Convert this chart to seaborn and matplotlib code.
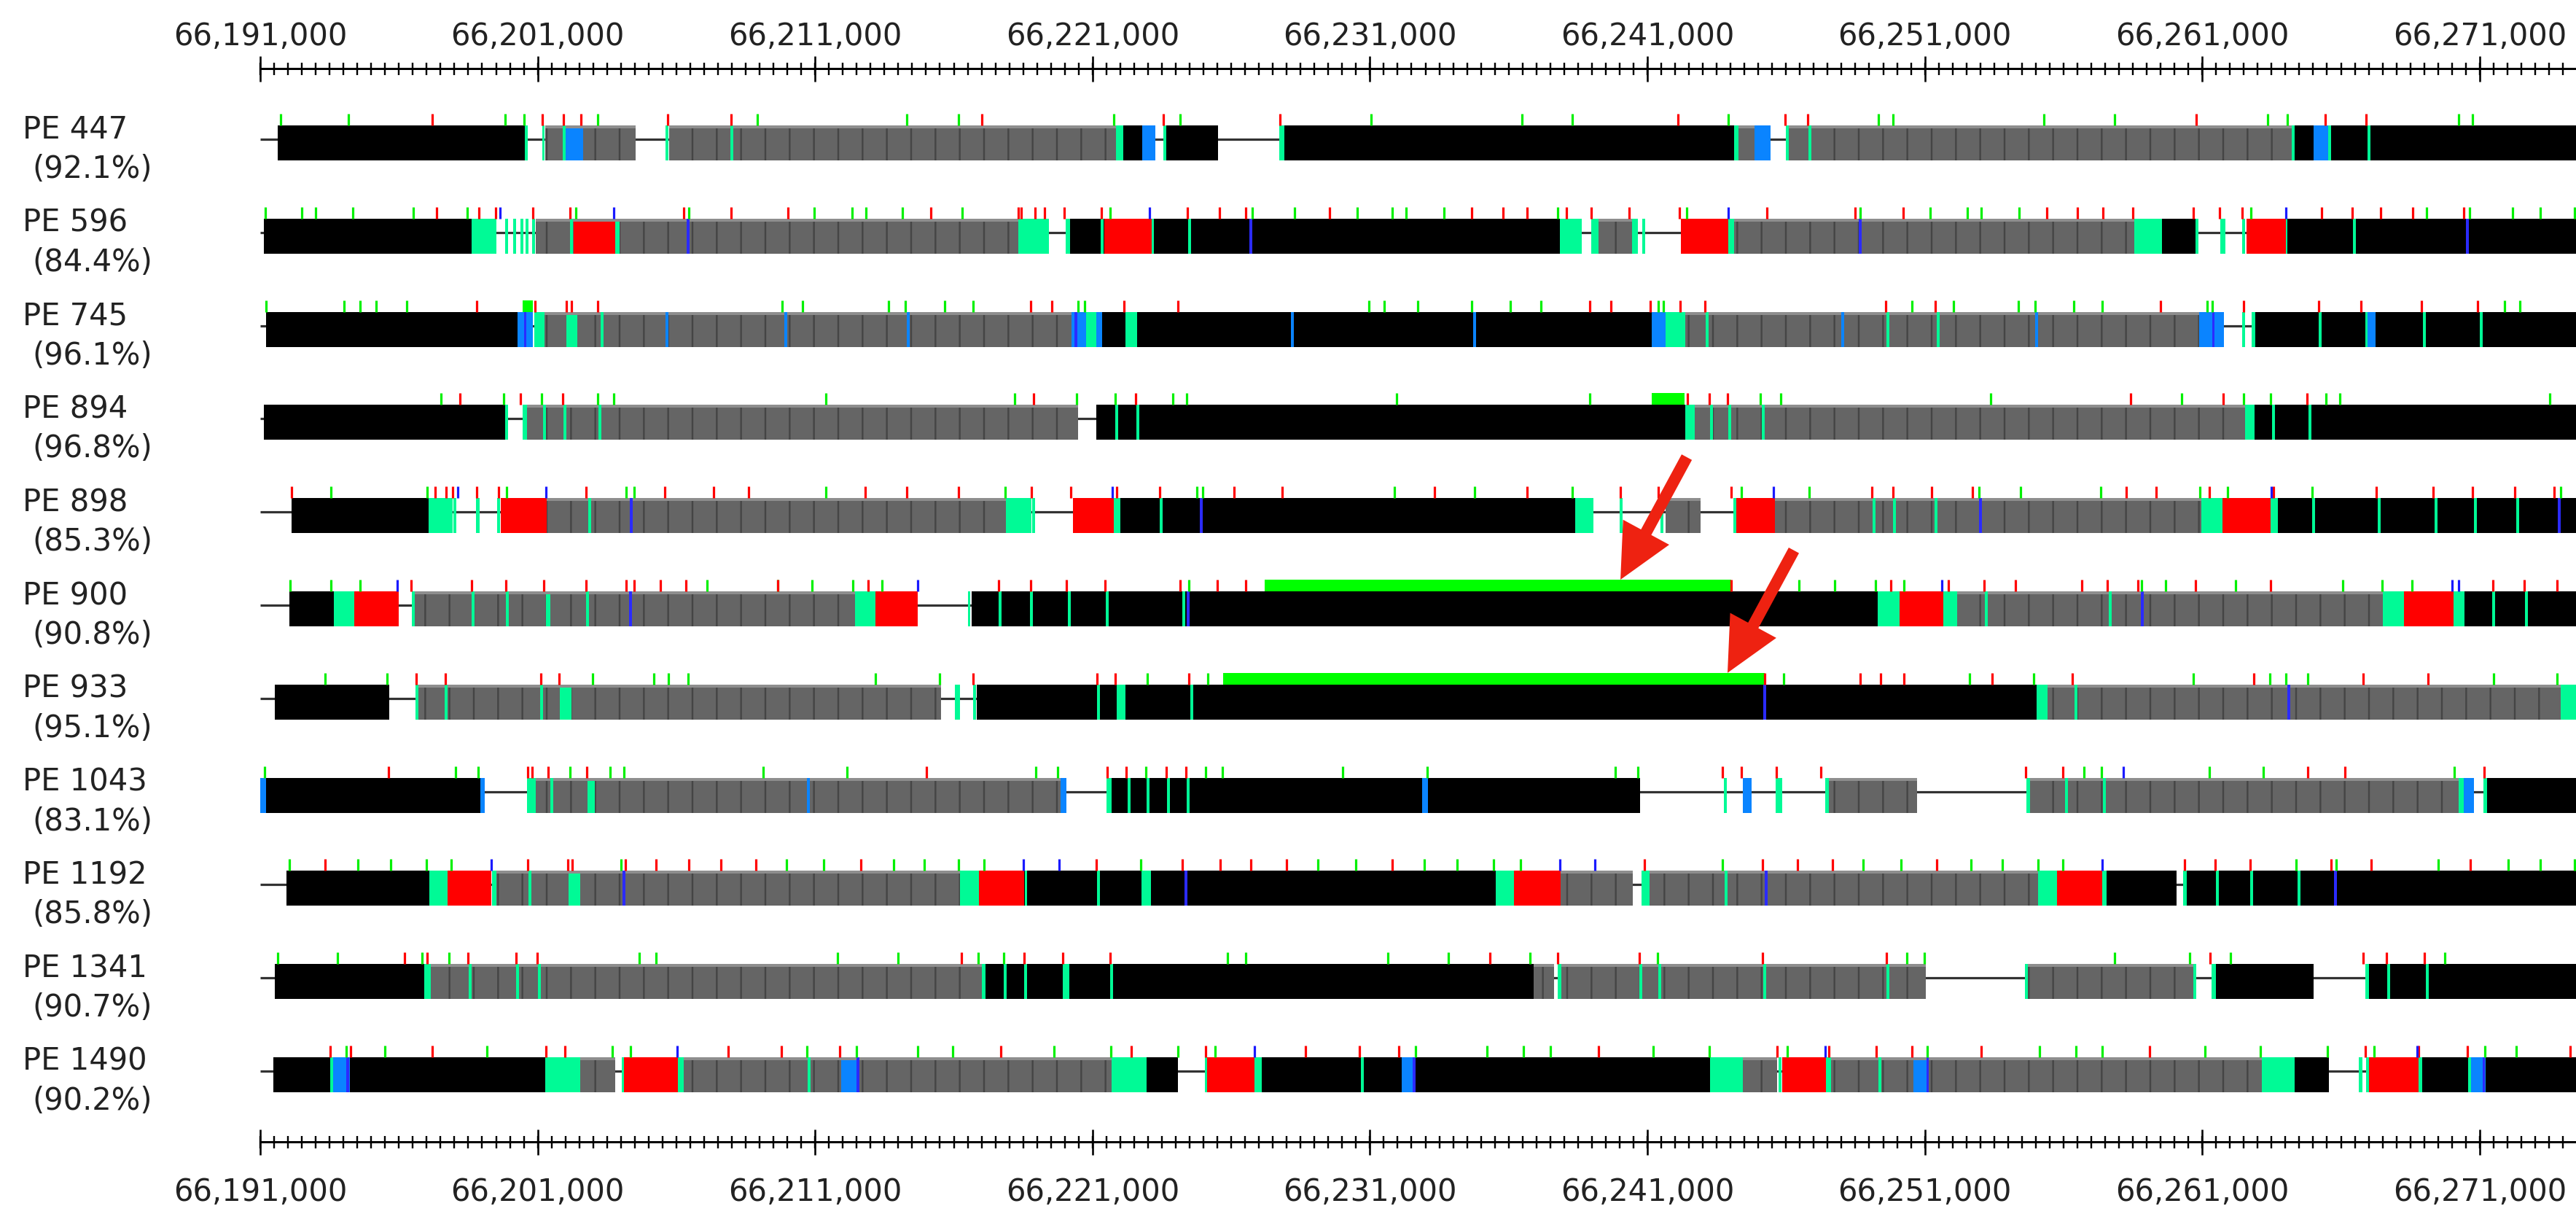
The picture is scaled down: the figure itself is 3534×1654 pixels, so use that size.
import numpy as np
import pandas as pd
import matplotlib
matplotlib.use("Agg")
import matplotlib.pyplot as plt
import matplotlib.patches as mpatches
from matplotlib.transforms import IdentityTransform
import seaborn as sns

# ---------------------------------------------------------------------------
# Data: positions are kb downstream of REGION_START
# Block kinds: K unique (black), G repeat (gray), R red, T teal, B light blue
# ---------------------------------------------------------------------------
REGION_START = 66_191_000
RULER_MAJOR_KB = 10
RULER_MINOR_KB = 0.5

SAMPLES = ["PE 447", "PE 596", "PE 745", "PE 894", "PE 898", "PE 900",
           "PE 933", "PE 1043", "PE 1192", "PE 1341", "PE 1490"]
IDENTITY = [92.1, 84.4, 96.1, 96.8, 85.3, 90.8, 95.1, 83.1, 85.8, 90.7, 90.2]

PE447_BLOCKS = [("K", 0.63, 9.62), ("G", 10.27, 13.53), ("B", 10.98, 11.64), ("G", 14.74, 30.85),
                ("T", 30.85, 31.11), ("K", 31.11, 31.79), ("B", 31.79, 32.26), ("K", 32.66, 34.52),
                ("T", 36.73, 36.92), ("K", 36.92, 53.13), ("T", 53.13, 53.28), ("G", 53.28, 53.86),
                ("B", 53.86, 54.44), ("G", 55.10, 73.25), ("K", 73.33, 74.01), ("B", 74.01, 74.59),
                ("K", 74.59, 83.6)]
PE447_TEAL = [9.60, 10.21, 10.96, 14.66, 17.00, 32.60, 55.04, 55.85, 73.27, 74.60, 76.01]
PE447_VIOLET = []
PE447_SKY = []
PE447_GREEN = [0.74, 3.18, 8.83, 9.51, 12.16, 17.92, 23.30, 25.17, 30.77, 33.16, 40.04, 45.48,
               47.29, 52.92, 58.33, 58.85, 64.29, 66.84, 72.36, 73.07, 79.24, 79.74]
PE447_RED = [6.20, 10.17, 10.93, 11.56, 14.69, 16.97, 26.01, 32.55, 36.76, 51.10, 54.97, 55.78,
             69.78, 74.43, 75.90]
PE447_BLUE = []
PE447_BAR = []

PE596_BLOCKS = [("K", 0.13, 7.62), ("T", 7.62, 8.51), ("G", 9.93, 27.32), ("R", 11.30, 12.80),
                ("T", 12.80, 12.95), ("T", 27.32, 28.43), ("T", 29.03, 29.19), ("K", 29.19, 46.85),
                ("R", 30.43, 32.13), ("T", 32.13, 32.21), ("T", 46.85, 47.63), ("T", 47.98, 48.24),
                ("G", 48.24, 49.45), ("T", 49.45, 49.66), ("R", 51.21, 52.92), ("T", 52.92, 53.13),
                ("G", 53.13, 67.55), ("T", 67.55, 68.55), ("K", 68.55, 69.78), ("T", 70.65, 70.83),
                ("R", 71.60, 73.01), ("T", 73.01, 73.07), ("K", 73.07, 83.6)]
PE596_TEAL = [8.88, 9.17, 9.43, 9.62, 9.86, 11.22, 30.35, 33.50, 49.87, 69.82, 71.49, 75.49]
PE596_VIOLET = [15.42, 35.70, 57.67, 79.56]
PE596_SKY = []
PE596_GREEN = [0.18, 1.50, 2.00, 3.34, 5.52, 7.46, 11.38, 15.45, 19.97, 21.33, 21.83, 23.15, 25.30,
               30.64, 35.76, 37.28, 39.54, 40.80, 41.30, 42.67, 46.77, 51.42, 57.67, 60.19, 61.53,
               62.03, 63.40, 71.75, 78.09, 79.64, 81.19, 82.18, 83.42]
PE596_RED = [6.36, 7.88, 8.49, 9.83, 11.17, 15.27, 16.97, 19.02, 24.17, 27.32, 27.43, 27.93, 28.27,
             28.98, 30.32, 33.42, 34.58, 35.52, 38.54, 43.67, 44.80, 45.66, 47.08, 47.98, 49.34,
             51.15, 54.31, 57.49, 59.22, 64.40, 65.50, 66.42, 67.50, 69.68, 70.62, 71.44, 74.30,
             75.41, 76.43, 77.59, 79.43]
PE596_BLUE = [8.64, 12.74, 32.05, 52.92, 73.01]
PE596_BAR = []

PE745_BLOCKS = [("K", 0.21, 9.27), ("B", 9.27, 9.83), ("T", 9.88, 10.25), ("G", 10.25, 29.24),
                ("T", 11.04, 11.43), ("B", 29.24, 29.77), ("T", 29.77, 30.14), ("B", 30.14, 30.35),
                ("K", 30.35, 50.16), ("T", 31.19, 31.61), ("B", 50.16, 50.66), ("T", 50.66, 51.37),
                ("G", 51.37, 69.89), ("B", 69.89, 70.78), ("T", 71.78, 71.91), ("K", 71.91, 83.6),
                ("B", 75.95, 76.25)]
PE745_TEAL = [12.32, 52.15, 58.67, 60.48, 71.49, 74.25, 75.92, 78.01, 80.06]
PE745_VIOLET = [9.55, 29.40, 70.40]
PE745_SKY = [14.66, 18.94, 23.36, 37.20, 43.77, 57.04, 64.03]
PE745_GREEN = [0.21, 3.02, 3.60, 4.18, 5.28, 18.81, 19.55, 22.65, 23.25, 24.67, 25.70, 29.48, 29.72,
               39.96, 40.51, 41.72, 43.67, 45.06, 46.16, 50.39, 50.58, 59.54, 61.04, 63.37, 63.98,
               65.37, 66.39, 70.18, 70.36, 80.90, 81.45]
PE745_RED = [7.80, 9.91, 11.04, 11.22, 12.16, 27.77, 28.53, 31.13, 33.08, 47.92, 48.69, 50.10,
             51.18, 52.07, 58.59, 60.38, 68.50, 71.49, 74.20, 75.72, 77.90, 79.93]
PE745_BLUE = []
PE745_BAR = [(9.46, 9.83)]

PE894_BLOCKS = [("K", 0.13, 8.85), ("T", 9.46, 9.62), ("G", 9.62, 29.48), ("K", 30.14, 51.37),
                ("T", 51.37, 51.71), ("G", 51.71, 71.54), ("T", 71.54, 71.89), ("K", 71.89, 83.6)]
PE894_TEAL = [8.88, 10.25, 10.98, 12.24, 30.87, 31.63, 52.31, 52.97, 54.18, 72.57, 73.88]
PE894_VIOLET = []
PE894_SKY = []
PE894_GREEN = [6.52, 8.78, 10.14, 12.16, 12.74, 20.39, 27.19, 29.43, 30.82, 32.90, 33.39, 40.96,
               47.92, 54.07, 54.81, 62.37, 69.26, 71.49, 72.46, 74.46, 74.96, 82.53]
PE894_RED = [7.20, 9.38, 10.90, 27.88, 31.56, 51.44, 52.23, 52.89, 67.42, 70.76, 73.78]
PE894_BLUE = []
PE894_BAR = [(50.16, 51.34)]

PE898_BLOCKS = [("K", 1.13, 6.07), ("T", 6.07, 6.94), ("T", 7.78, 7.91), ("R", 8.67, 10.33),
                ("G", 10.33, 26.88), ("T", 26.88, 27.80), ("R", 29.30, 30.77), ("T", 30.77, 31.00),
                ("K", 31.00, 47.40), ("T", 47.40, 48.06), ("G", 50.66, 51.92), ("R", 53.21, 54.60),
                ("G", 54.60, 69.97), ("T", 69.97, 70.73), ("R", 70.73, 72.46), ("T", 72.46, 72.73),
                ("K", 72.73, 83.6)]
PE898_TEAL = [7.02, 8.59, 11.88, 27.88, 32.47, 49.05, 50.52, 53.15, 58.17, 58.91, 60.40, 74.01,
              76.38, 78.43, 79.85, 81.37]
PE898_VIOLET = [13.37, 33.92, 62.01, 82.87]
PE898_SKY = []
PE898_GREEN = [2.55, 6.02, 8.88, 13.19, 13.48, 20.39, 26.85, 33.76, 33.97, 40.88, 43.77, 47.29,
               53.39, 55.83, 61.95, 63.45, 66.34, 69.92, 70.91, 73.96, 82.92]
PE898_RED = [1.13, 6.31, 6.70, 6.94, 7.80, 8.59, 11.74, 14.58, 16.34, 17.60, 21.81, 23.30, 25.17,
             27.80, 29.22, 30.87, 32.42, 35.10, 36.84, 42.33, 45.66, 49.03, 50.39, 53.02, 58.09,
             58.85, 60.25, 61.72, 67.26, 68.34, 70.26, 72.57, 76.27, 78.32, 79.74, 81.27, 82.69]
PE898_BLUE = [7.12, 10.30, 30.72, 54.54, 72.49]
PE898_BAR = []

PE900_BLOCKS = [("K", 1.05, 2.65), ("T", 2.65, 3.39), ("R", 3.39, 4.99), ("G", 5.57, 21.44),
                ("T", 10.30, 10.45), ("T", 21.44, 22.18), ("R", 22.18, 23.70), ("K", 25.64, 58.30),
                ("T", 58.30, 59.09), ("R", 59.09, 60.67), ("T", 60.67, 61.17), ("G", 61.17, 76.51),
                ("T", 76.51, 77.27), ("R", 77.27, 79.06), ("T", 79.06, 79.45), ("K", 79.45, 83.6)]
PE900_TEAL = [5.52, 7.67, 8.91, 11.80, 25.55, 26.67, 27.80, 29.16, 30.53, 33.30, 62.22, 66.68,
              80.50, 81.69]
PE900_VIOLET = [13.35, 33.45, 67.84]
PE900_SKY = []
PE900_GREEN = [1.08, 2.55, 3.60, 16.11, 18.65, 19.89, 21.36, 22.41, 33.47, 55.47, 56.75, 58.22,
               59.25, 67.81, 68.68, 71.20, 75.06, 76.48, 77.56]
PE900_RED = [5.44, 7.62, 8.85, 10.22, 11.74, 13.19, 13.48, 14.42, 15.34, 18.65, 21.91, 26.62,
             27.77, 29.06, 30.45, 33.16, 34.50, 35.52, 53.02, 58.77, 60.85, 62.14, 63.27, 65.66,
             66.58, 67.68, 69.76, 72.46, 80.48, 81.61, 82.79]
PE900_BLUE = [4.94, 23.70, 60.61, 79.01, 79.24]
PE900_BAR = [(36.21, 53.02)]

PE933_BLOCKS = [("K", 0.53, 4.65), ("G", 5.70, 24.54), ("T", 10.80, 11.22), ("T", 25.04, 25.22),
                ("K", 25.83, 64.03), ("T", 30.87, 31.19), ("T", 64.03, 64.42), ("G", 64.42, 82.92),
                ("T", 82.92, 83.6)]
PE933_TEAL = [5.65, 6.70, 10.14, 25.75, 30.22, 33.58, 65.45]
PE933_VIOLET = [54.23, 73.12]
PE933_SKY = []
PE933_GREEN = [2.34, 4.57, 11.98, 14.19, 14.71, 15.42, 22.18, 24.49, 31.98, 34.16, 54.91, 61.61,
               63.92, 69.68, 72.44, 73.01, 73.80, 80.50, 82.79]
PE933_RED = [5.62, 6.67, 10.12, 10.77, 25.70, 30.16, 30.82, 33.47, 54.23, 57.67, 58.41, 59.25,
             62.43, 65.32, 71.86, 75.80, 78.14]
PE933_BLUE = []
PE933_BAR = [(34.72, 54.23)]

PE1043_BLOCKS = [("B", 0.0, 0.21), ("K", 0.21, 7.93), ("B", 7.93, 8.09), ("T", 9.62, 9.93),
                 ("G", 9.93, 28.85), ("T", 11.80, 12.06), ("B", 28.85, 29.06), ("T", 30.50, 30.69),
                 ("K", 30.69, 49.74), ("B", 41.88, 42.09), ("B", 53.44, 53.76), ("T", 54.62, 54.86),
                 ("T", 56.41, 56.54), ("G", 56.54, 59.72), ("T", 63.66, 63.79), ("G", 63.79, 79.24),
                 ("T", 79.24, 79.43), ("B", 79.43, 79.79), ("T", 80.14, 80.27), ("K", 80.27, 83.6)]
PE1043_TEAL = [10.51, 31.32, 32.00, 32.74, 33.45, 52.81, 65.11, 66.47]
PE1043_VIOLET = []
PE1043_SKY = [19.76]
PE1043_GREEN = [0.16, 7.04, 7.86, 11.17, 12.61, 13.11, 18.13, 21.15, 27.96, 28.74, 31.92, 34.08,
                34.68, 39.02, 42.06, 48.84, 49.66, 65.74, 66.37, 70.26, 72.20, 79.08]
PE1043_RED = [4.62, 9.64, 9.80, 10.38, 11.77, 24.01, 30.53, 31.21, 32.66, 33.37, 52.71, 53.39,
              54.65, 56.25, 63.64, 64.98, 73.80, 75.14, 80.17]
PE1043_BLUE = [67.16]
PE1043_BAR = []

PE1192_BLOCKS = [("K", 0.95, 6.10), ("T", 6.10, 6.75), ("R", 6.75, 8.33), ("T", 8.36, 8.51),
                 ("G", 8.51, 25.22), ("T", 11.11, 11.53), ("T", 25.22, 25.91), ("R", 25.91, 27.54),
                 ("K", 27.54, 44.53), ("T", 31.77, 32.11), ("T", 44.53, 45.19), ("R", 45.19, 46.87),
                 ("G", 46.87, 49.47), ("T", 49.79, 50.08), ("G", 50.08, 64.08), ("T", 64.08, 64.77),
                 ("R", 64.77, 66.39), ("T", 66.39, 66.55), ("K", 66.55, 69.07), ("T", 69.31, 69.45),
                 ("K", 69.45, 83.6)]
PE1192_TEAL = [9.72, 27.60, 30.22, 52.84, 70.55, 71.78, 73.49]
PE1192_VIOLET = [13.11, 33.37, 54.28, 74.80]
PE1192_SKY = []
PE1192_GREEN = [1.05, 3.52, 4.70, 5.99, 6.88, 13.01, 18.97, 20.31, 22.83, 23.94, 25.17, 26.09,
                31.74, 38.12, 39.49, 41.96, 43.14, 44.46, 45.43, 52.71, 57.78, 59.14, 61.67, 62.79,
                64.08, 64.98, 73.38, 74.83, 78.51, 81.03, 82.18, 83.42]
PE1192_RED = [2.34, 9.64, 11.09, 11.25, 13.16, 14.27, 15.45, 16.61, 17.87, 21.65, 30.14, 33.24,
              34.60, 35.71, 36.99, 40.80, 49.89, 54.15, 55.41, 56.67, 60.43, 69.36, 70.47, 71.73,
              74.64, 76.09, 79.66]
PE1192_BLUE = [8.33, 27.51, 28.80, 46.85, 48.11, 66.39]
PE1192_BAR = []

PE1341_BLOCKS = [("K", 0.53, 5.91), ("T", 5.91, 6.15), ("G", 6.15, 26.01), ("T", 26.01, 26.14),
                 ("K", 26.14, 45.90), ("T", 28.93, 29.16), ("G", 45.90, 46.64), ("T", 46.77, 46.90),
                 ("G", 46.90, 60.04), ("T", 63.61, 63.72), ("G", 63.72, 69.68), ("T", 69.68, 69.79),
                 ("T", 70.34, 70.49), ("K", 70.49, 74.01), ("T", 75.88, 76.00), ("K", 76.00, 83.6)]
PE1341_TEAL = [7.57, 9.27, 10.06, 26.85, 27.59, 30.69, 49.76, 50.45, 54.23, 58.67, 76.72, 78.11]
PE1341_VIOLET = []
PE1341_SKY = []
PE1341_GREEN = [0.63, 2.79, 5.83, 6.80, 13.66, 14.27, 20.81, 22.99, 25.88, 26.80, 34.87, 35.52,
                40.65, 42.83, 45.77, 50.37, 59.35, 59.98, 66.84, 69.55, 71.02, 78.74]
PE1341_RED = [5.20, 6.02, 7.49, 9.22, 9.98, 25.28, 27.54, 28.93, 30.64, 44.32, 46.77, 49.71,
              54.15, 58.62, 70.28, 75.80, 76.64, 78.01]
PE1341_BLUE = []
PE1341_BAR = []

PE1490_BLOCKS = [("K", 0.47, 2.55), ("B", 2.55, 3.23), ("K", 3.23, 10.27), ("T", 10.27, 11.53),
                 ("G", 11.53, 12.80), ("T", 13.04, 13.14), ("R", 13.11, 15.05), ("T", 15.05, 15.27),
                 ("G", 15.27, 30.69), ("B", 20.94, 21.60), ("T", 30.69, 31.95), ("K", 31.95, 33.08),
                 ("T", 34.04, 34.13), ("R", 34.13, 35.84), ("T", 35.84, 36.10), ("K", 36.10, 52.26),
                 ("B", 41.14, 41.64), ("T", 52.26, 53.44), ("G", 53.44, 54.68), ("T", 54.74, 54.84),
                 ("R", 54.86, 56.44), ("T", 56.44, 56.62), ("G", 56.62, 72.15), ("B", 59.59, 60.14),
                 ("T", 72.15, 73.33), ("K", 73.33, 74.57), ("T", 75.64, 75.78), ("T", 75.90, 76.01),
                 ("R", 76.01, 77.80), ("T", 77.80, 77.93), ("K", 77.93, 79.61), ("B", 79.61, 80.21),
                 ("K", 80.21, 83.6)]
PE1490_TEAL = [2.57, 19.78, 39.73, 58.38, 79.63]
PE1490_VIOLET = [3.15, 21.55, 41.60, 60.10, 80.15]
PE1490_SKY = []
PE1490_GREEN = [3.10, 4.49, 8.17, 12.69, 13.35, 19.71, 21.49, 23.70, 24.96, 28.61, 30.66, 33.08,
                34.42, 41.64, 44.22, 45.53, 46.51, 50.21, 52.23, 55.04, 60.09, 64.13, 65.45, 66.39,
                70.10, 72.10, 74.51, 76.20, 80.19, 81.32]
PE1490_RED = [2.52, 3.26, 6.20, 10.30, 10.98, 16.87, 18.79, 20.89, 26.69, 31.40, 34.08, 37.68,
              39.62, 41.04, 48.24, 54.68, 56.54, 58.25, 59.54, 62.03, 68.10, 75.88, 77.80, 79.56,
              83.26]
PE1490_BLUE = [15.03, 35.84, 56.41, 77.75]
PE1490_BAR = []

# Annotation arrows: tip position (kb, row index) each points at
ARROW_TIPS = [(49.03, 5), (52.89, 6)]

ROW_BLOCKS = [PE447_BLOCKS, PE596_BLOCKS, PE745_BLOCKS, PE894_BLOCKS, PE898_BLOCKS, PE900_BLOCKS,
              PE933_BLOCKS, PE1043_BLOCKS, PE1192_BLOCKS, PE1341_BLOCKS, PE1490_BLOCKS]
ROW_TEAL = [PE447_TEAL, PE596_TEAL, PE745_TEAL, PE894_TEAL, PE898_TEAL, PE900_TEAL,
            PE933_TEAL, PE1043_TEAL, PE1192_TEAL, PE1341_TEAL, PE1490_TEAL]
ROW_VIOLET = [PE447_VIOLET, PE596_VIOLET, PE745_VIOLET, PE894_VIOLET, PE898_VIOLET, PE900_VIOLET,
              PE933_VIOLET, PE1043_VIOLET, PE1192_VIOLET, PE1341_VIOLET, PE1490_VIOLET]
ROW_SKY = [PE447_SKY, PE596_SKY, PE745_SKY, PE894_SKY, PE898_SKY, PE900_SKY,
           PE933_SKY, PE1043_SKY, PE1192_SKY, PE1341_SKY, PE1490_SKY]
ROW_GREEN = [PE447_GREEN, PE596_GREEN, PE745_GREEN, PE894_GREEN, PE898_GREEN, PE900_GREEN,
             PE933_GREEN, PE1043_GREEN, PE1192_GREEN, PE1341_GREEN, PE1490_GREEN]
ROW_RED = [PE447_RED, PE596_RED, PE745_RED, PE894_RED, PE898_RED, PE900_RED,
           PE933_RED, PE1043_RED, PE1192_RED, PE1341_RED, PE1490_RED]
ROW_BLUE = [PE447_BLUE, PE596_BLUE, PE745_BLUE, PE894_BLUE, PE898_BLUE, PE900_BLUE,
            PE933_BLUE, PE1043_BLUE, PE1192_BLUE, PE1341_BLUE, PE1490_BLUE]
ROW_BARS = [PE447_BAR, PE596_BAR, PE745_BAR, PE894_BAR, PE898_BAR, PE900_BAR,
            PE933_BAR, PE1043_BAR, PE1192_BAR, PE1341_BAR, PE1490_BAR]

# ---------------------------------------------------------------------------
# Styling
# ---------------------------------------------------------------------------
COLORS = {"K": "#000000", "G": "#656565", "R": "#ff0000", "T": "#00fa96", "B": "#0a84ff",
          "V": "#2b2bff"}
TICK_COLORS = {"green": "#00f000", "red": "#ff0000", "blue": "#1a1aff"}

W_PX, H_PX, DPI = 3534, 1654, 200
PX_PER_KB = 38.06
X0_PX = 357                       # pixel column of REGION_START
ROW_Y0, ROW_STEP = 196, 127.8     # first row centre and spacing (px)
HALF_H = 24                       # half bar height (px)
TICK_H = 16                       # variant tick height (px)


def pt(px):
    return px * 72.0 / DPI


def px_to_kb(px):
    return (px - X0_PX) / PX_PER_KB


sns.set_theme(style="white")
plt.rcParams["font.family"] = ["DejaVu Sans"]
plt.rcParams["hatch.linewidth"] = pt(2.4)

fig = plt.figure(figsize=(W_PX / DPI, H_PX / DPI), dpi=DPI)
fig.patch.set_facecolor("white")
ax = fig.add_axes([0, 0, 1, 1])
x_left, x_right = px_to_kb(0), px_to_kb(W_PX)

tick_rows = []
for i, name in enumerate(SAMPLES):
    c = ROW_Y0 + i * ROW_STEP
    top = c - HALF_H
    # backbone line
    ax.hlines(c - 5, 0, x_right, color="#333333", lw=pt(3.2), zorder=1)
    # aligned blocks
    for kind, s, e in ROW_BLOCKS[i]:
        if kind == "G":
            ax.add_patch(mpatches.Rectangle((s, top), e - s, 2 * HALF_H, facecolor=COLORS["G"],
                                            edgecolor="#454545", hatch="|", lw=0, zorder=2))
            ax.add_patch(mpatches.Rectangle((s, top), e - s, 4, facecolor="#8e8e8e", lw=0,
                                            zorder=2.1))
        else:
            ax.add_patch(mpatches.Rectangle((s, top), e - s, 2 * HALF_H, facecolor=COLORS[kind],
                                            lw=0, zorder=2))
    for kind, marks in (("T", ROW_TEAL[i]), ("B", ROW_SKY[i]), ("V", ROW_VIOLET[i])):
        for p in marks:
            ax.add_patch(mpatches.Rectangle((p - 0.05, top), 0.1, 2 * HALF_H,
                                            facecolor=COLORS[kind], lw=0, zorder=3))
    for s, e in ROW_BARS[i]:
        ax.add_patch(mpatches.Rectangle((s, top - TICK_H), e - s, TICK_H, facecolor="#00ff00",
                                        lw=0, zorder=3))
    for kind, vals in (("green", ROW_GREEN[i]), ("red", ROW_RED[i]), ("blue", ROW_BLUE[i])):
        for v in vals:
            tick_rows.append({"pos": v, "y": top - TICK_H / 2, "kind": kind})
    # labels
    ax.text(px_to_kb(31), c - 6, name, ha="left", va="baseline", fontsize=15, color="#222222")
    ax.text(px_to_kb(44), c + 48, f"({IDENTITY[i]:.1f}%)", ha="left", va="baseline",
            fontsize=15, color="#222222")

ticks = pd.DataFrame(tick_rows)
sns.scatterplot(data=ticks, x="pos", y="y", hue="kind", palette=TICK_COLORS, marker="|",
                s=(pt(TICK_H)) ** 2, linewidth=pt(3.2), legend=False, ax=ax, zorder=4)

# rulers (top and bottom)
majors = np.arange(0, x_right, RULER_MAJOR_KB)
minors = np.arange(0, x_right, RULER_MINOR_KB)
for y_line, y_lab in ((94, 62), (1566, 1647)):
    ax.hlines(y_line, 0, x_right, color="black", lw=pt(3), zorder=2)
    ax.vlines(minors, y_line - 8.5, y_line + 8.5, color="black", lw=pt(2.4), zorder=2)
    ax.vlines(majors, y_line - 17.5, y_line + 17.5, color="black", lw=pt(2.6), zorder=2)
    for m in majors:
        ax.text(m, y_lab, f"{REGION_START + int(round(m * 1000)):,}", ha="center",
                va="baseline", fontsize=15, color="#222222")

ax.set_xlim(x_left, x_right)
ax.set_ylim(H_PX, 0)
ax.axis("off")

# red call-out arrows
for kb, row in ARROW_TIPS:
    tip_y = ROW_Y0 + row * ROW_STEP - HALF_H - TICK_H
    tx, ty = ax.transData.transform((kb, tip_y))
    dx, dy = -91, -168
    ax.add_patch(mpatches.FancyArrow(tx - dx, ty - dy, dx, dy, width=16, head_width=72,
                                     head_length=74, length_includes_head=True,
                                     color="#ee2211", lw=0, transform=IdentityTransform(),
                                     zorder=10))

fig.savefig("out.png", dpi=DPI, facecolor="white")
